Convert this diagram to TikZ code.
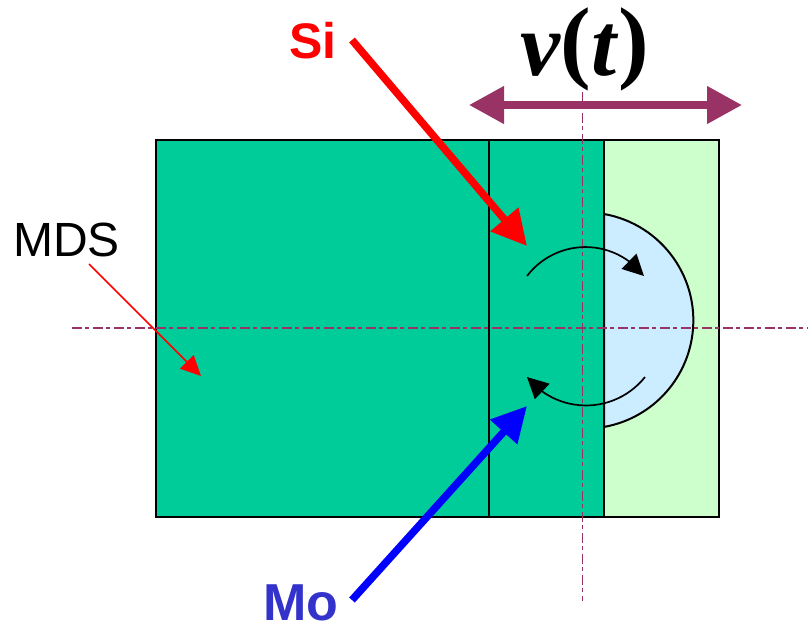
\documentclass[tikz,border=0pt]{standalone}
\usepackage{fontspec}
\setmainfont{Liberation Sans}
\newfontfamily\serifbold{Liberation Serif}
\usepackage{xcolor}
\usetikzlibrary{arrows.meta,bending}
\definecolor{mdsgreen}{HTML}{00CC99}
\definecolor{palegreen}{HTML}{CCFFCC}
\definecolor{meltblue}{HTML}{CCECFF}
\definecolor{plum}{HTML}{993366}
\definecolor{moblue}{HTML}{3333CC}
\newcommand{\tallparen}[1]{\raisebox{4pt}{\fontsize{92}{92}\selectfont #1}}
\tikzset{
  region/.style={draw=black,line width=2pt},
  axisline/.style={draw=plum,line width=1.5pt,dash pattern=on 9.5pt off 3.5pt on 4pt off 4pt},
  feed/.style={line width=7.5pt,-{Triangle[length=35pt,width=35pt]}},
  spin/.style={draw=black,line width=1.7pt,-{Triangle[length=21pt,width=21pt,flex]}},
  label/.style={inner sep=0pt,anchor=base west}
}
\begin{document}
\begin{tikzpicture}[x=1pt,y=-1pt]
  \useasboundingbox (0,0) rectangle (811,625);
  \coordinate (nw) at (156,140);
  \coordinate (se) at (719,517);
  \coordinate (melttop) at (604,214);
  % sample blocks
  \filldraw[region,fill=palegreen] (nw) rectangle (se);
  \filldraw[region,fill=meltblue] (melttop) arc[start angle=-80,end angle=80,radius=108.1] -- cycle;
  \filldraw[region,fill=mdsgreen] (nw) rectangle (604,517);
  \draw[region] (489,140) -- (489,517);
  % axes
  \coordinate (hleft) at (72,328);
  \coordinate (hright) at (808,328);
  \coordinate (vtop) at (582.7,92);
  \coordinate (vbot) at (582.7,601);
  \draw[axisline] (hleft) -- (hright);
  \draw[axisline] (vtop) -- (vbot);
  % rotation
  \coordinate (spintop) at (527,276);
  \coordinate (spinbot) at (645,377);
  \draw[spin] (spintop) arc[start angle=-142.7,end angle=-37.3,radius=73.5];
  \draw[spin] (spinbot) arc[start angle=38.5,end angle=141.5,radius=75.4];
  % feed rods
  \coordinate (sitail) at (352,40);
  \coordinate (sitip) at (527,246);
  \coordinate (motail) at (352,600);
  \coordinate (motip) at (527,406);
  \draw[feed,red] (sitail) -- (sitip);
  \draw[feed,blue] (motail) -- (motip);
  % travel
  \coordinate (vleft) at (469,105);
  \coordinate (vright) at (742,105);
  \draw[plum,line width=7.5pt,{Triangle[length=35pt,width=36pt]}-{Triangle[length=35pt,width=36pt]}] (vleft) -- (vright);
  % labels
  \node[label,font=\bfseries\fontsize{50}{50}\selectfont,text=red] (si) at (289,58) {Si};
  \node[label,font=\bfseries\fontsize{52}{52}\selectfont,text=moblue] (mo) at (263,620) {Mo};
  \node[label,font=\fontsize{48}{48}\selectfont] (mds) at (13,256) {MDS};
  \node[label,font=\serifbold\bfseries\fontsize{90}{90}\selectfont] (vt) at (520,75) {\textit{v}\tallparen{(}\textit{t}\tallparen{)}};
  \coordinate (mdstip) at (201,376);
  \coordinate (mdstail) at (89,264);
  \draw[red,line width=1.5pt,-{Triangle[length=20pt,width=19pt]}] (mdstail) -- (mdstip);
\end{tikzpicture}
\end{document}
